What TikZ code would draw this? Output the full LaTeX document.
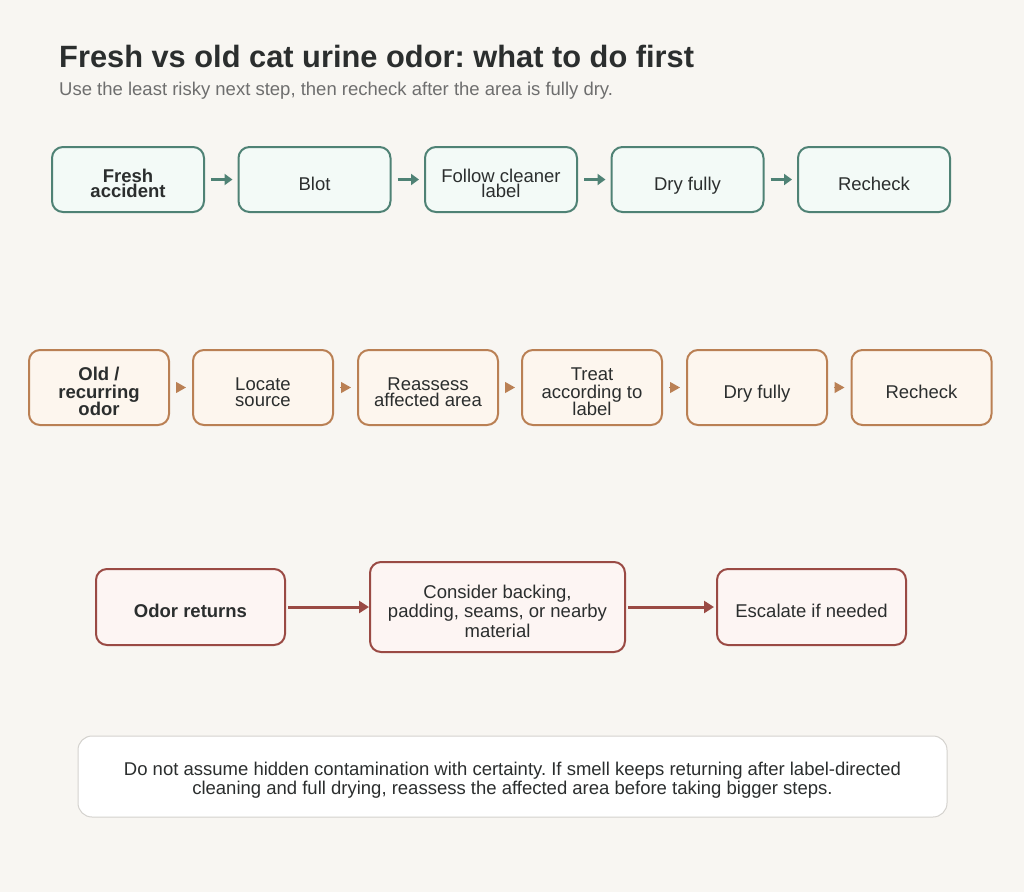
\documentclass[tikz,border=0pt]{standalone}
\usepackage{fontspec}
\setmainfont{Liberation Sans}
\frenchspacing
\usetikzlibrary{arrows.meta}
\definecolor{bg}{HTML}{F8F6F2}
\definecolor{ink}{HTML}{2B2E2E}
\definecolor{sub}{HTML}{6E6E6E}
\definecolor{tealD}{HTML}{4F8275}
\definecolor{tealF}{HTML}{F3FAF7}
\definecolor{brD}{HTML}{BA8054}
\definecolor{brF}{HTML}{FDF6EE}
\definecolor{rdD}{HTML}{9A4A44}
\definecolor{rdF}{HTML}{FDF5F3}
\definecolor{noteD}{HTML}{D4D2CE}
\newcommand\tp{\rule{0pt}{26pt}}
\newcommand\bt{\rule[-5pt]{0pt}{0pt}}
\newcommand\ntp{\rule{0pt}{22pt}}
\tikzset{
  box/.style={rounded corners=11pt, line width=2pt, inner sep=0pt, align=center,
     text=ink, font=\fontsize{18.5}{15.5}\selectfont},
  teal/.style={box, draw=tealD, fill=tealF, minimum width=152pt, minimum height=65pt},
  brown/.style={box, draw=brD, fill=brF, minimum width=140pt, minimum height=75pt},
  red/.style={box, draw=rdD, fill=rdF, minimum height=76pt},
  tarr/.style={draw=tealD, line width=3pt, -{Triangle[length=8pt,width=11pt]}},
  barr/.style={draw=brD, line width=1pt, -{Triangle[length=10pt,width=11pt]}},
  rarr/.style={draw=rdD, line width=3pt, -{Triangle[length=10pt,width=12pt]}},
}
\begin{document}
\begin{tikzpicture}[x=1pt,y=-1pt]
\fill[bg] (0,0) rectangle (1024,892);
\useasboundingbox (0,0) rectangle (1024,892);
\node[anchor=base west, inner sep=0pt, text=ink, font=\fontsize{30.8}{32}\selectfont\bfseries] (title) at (59,67) {Fresh vs old cat urine odor: what to do first};
\node[anchor=base west, inner sep=0pt, text=sub, font=\fontsize{18.5}{20}\selectfont] (subtitle) at (59,95) {Use the least risky next step, then recheck after the area is fully dry.};
% row 1
\node[teal, font=\fontsize{18.5}{15.5}\selectfont\bfseries] (f1) at (128,179.5) {\tp Fresh\\accident\bt};
\node[teal] (f2) at (314.5,179.5) {\tp Blot\bt};
\node[teal] (f3) at (501,179.5) {\tp Follow cleaner\\label\bt};
\node[teal] (f4) at (687.5,179.5) {\tp Dry fully\bt};
\node[teal] (f5) at (874,179.5) {\tp Recheck\bt};
\draw[tarr] ([xshift=6pt]f1.east) -- ([xshift=-5pt]f2.west);
\draw[tarr] ([xshift=6pt]f2.east) -- ([xshift=-5pt]f3.west);
\draw[tarr] ([xshift=6pt]f3.east) -- ([xshift=-5pt]f4.west);
\draw[tarr] ([xshift=6pt]f4.east) -- ([xshift=-5pt]f5.west);
% row 2
\node[brown, font=\fontsize{18.5}{17.5}\selectfont\bfseries] (o1) at (99,387.5) {\tp Old /\\recurring\\odor\bt};
\node[brown, font=\fontsize{18.5}{16}\selectfont] (o2) at (263,387.5) {\tp Locate\\source\bt};
\node[brown, font=\fontsize{18.5}{16}\selectfont] (o3) at (428,387.5) {\tp Reassess\\affected area\bt};
\node[brown, font=\fontsize{18.5}{17.5}\selectfont] (o4) at (592,387.5) {\tp Treat\\according to\\label\bt};
\node[brown] (o5) at (757,387.5) {\tp Dry fully\bt};
\node[brown] (o6) at (921.5,387.5) {\tp Recheck\bt};
\draw[barr] ([xshift=6pt]o1.east) -- ([xshift=-6pt]o2.west);
\draw[barr] ([xshift=6pt]o2.east) -- ([xshift=-6pt]o3.west);
\draw[barr] ([xshift=6pt]o3.east) -- ([xshift=-6pt]o4.west);
\draw[barr] ([xshift=6pt]o4.east) -- ([xshift=-6pt]o5.west);
\draw[barr] ([xshift=6pt]o5.east) -- ([xshift=-6pt]o6.west);
% row 3
\node[red, minimum width=189pt, font=\fontsize{18.5}{19}\selectfont\bfseries] (r1) at (190.5,607) {\tp Odor returns\bt};
\node[red, minimum width=255pt, minimum height=90pt, font=\fontsize{18.5}{19.5}\selectfont] (r2) at (497.5,607) {\tp Consider backing,\\padding, seams, or nearby\\material\bt};
\node[red, minimum width=189pt] (r3) at (811.5,607) {\tp Escalate if needed\bt};
\draw[rarr] ([xshift=2pt]r1.east) -- (r2.west);
\draw[rarr] ([xshift=2pt]r2.east) -- ([xshift=-2pt]r3.west);
% note
\node[rounded corners=14pt, draw=noteD, line width=1pt, fill=white, minimum width=869pt, minimum height=81pt, inner sep=0pt, align=center, text=ink, font=\fontsize{18.5}{19.5}\selectfont] (note) at (512.5,776.5) {\ntp Do not assume hidden contamination with certainty. If smell keeps returning after label-directed\\cleaning and full drying, reassess the affected area before taking bigger steps.\bt};
\end{tikzpicture}
\end{document}
